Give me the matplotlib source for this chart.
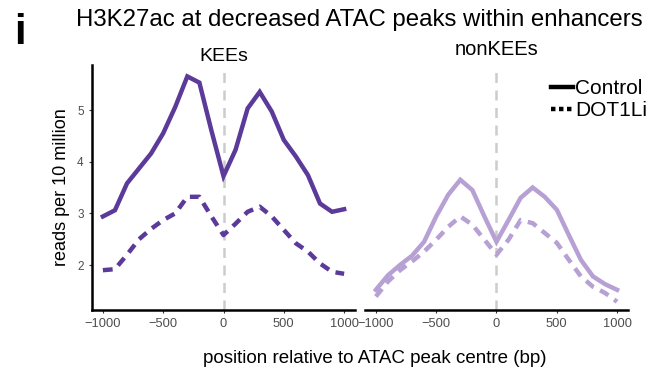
import numpy as np
import matplotlib.pyplot as plt
from matplotlib.lines import Line2D

plt.rcParams['font.family'] = ['Liberation Sans', 'DejaVu Sans']

# positions of the profile bins (bp)
pos = [-1000, -900, -800, -700, -600, -500, -400, -300, -200, -100, 0,
       100, 200, 300, 400, 500, 600, 700, 800, 900, 1000]

# KEEs
kee_ctrl = [2.94, 3.06, 3.58, 3.87, 4.16, 4.55, 5.06, 5.65, 5.53, 4.6, 3.72,
            4.23, 5.03, 5.35, 4.97, 4.42, 4.1, 3.74, 3.19, 3.03, 3.08]
kee_dot1l = [1.9, 1.92, 2.2, 2.5, 2.7, 2.87, 3.0, 3.32, 3.32, 2.94, 2.58,
             2.8, 3.03, 3.13, 2.94, 2.68, 2.42, 2.26, 2.03, 1.87, 1.83]

# nonKEEs
non_ctrl = [1.52, 1.8, 2.0, 2.18, 2.45, 2.94, 3.36, 3.65, 3.45, 2.94, 2.45,
            2.87, 3.3, 3.5, 3.32, 3.07, 2.58, 2.1, 1.78, 1.63, 1.52]
non_dot1l = [1.39, 1.68, 1.9, 2.07, 2.26, 2.49, 2.74, 2.94, 2.78, 2.49, 2.2,
             2.49, 2.87, 2.81, 2.62, 2.43, 2.1, 1.78, 1.58, 1.46, 1.29]

xticks = [-1000, -500, 0, 500, 1000]
xticklabels = ['\u22121000', '\u2212500', '0', '500', '1000']
yticks = [2, 3, 4, 5]

dark = '#5b3a9a'
light = '#b6a0d4'

fig = plt.figure(figsize=(6.64, 3.70), dpi=100)
ax1 = fig.add_axes([0.1386, 0.1622, 0.396, 0.662])
ax2 = fig.add_axes([0.5497, 0.1622, 0.396, 0.662])

for ax, ctrl, dot, col in [(ax1, kee_ctrl, kee_dot1l, dark),
                           (ax2, non_ctrl, non_dot1l, light)]:
    ax.axvline(0, color='#cccccc', lw=1.8, ls=(0, (4, 3)), zorder=1)
    ax.plot(pos, ctrl, color=col, lw=3.2, solid_joinstyle='miter', zorder=3)
    ax.plot(pos, dot, color=col, lw=3.2, ls=(0, (2.2, 1.6)), zorder=2)
    ax.set_xlim(-1090, 1090)
    ax.set_ylim(1.13, 5.87)
    ax.set_xticks(xticks)
    ax.set_xticklabels(xticklabels)
    ax.tick_params(axis='both', length=2.5, width=0.8, colors='#333333',
                   labelsize=9.3, pad=3.5, labelcolor='#4d4d4d')
    for s in ['top', 'right']:
        ax.spines[s].set_visible(False)
    ax.spines['bottom'].set_linewidth(1.8)
    ax.spines['left'].set_linewidth(1.8)

ax1.set_yticks(yticks)
ax1.tick_params(axis='y', labelsize=8.5)
ax2.set_yticks([])
ax2.spines['left'].set_visible(False)

ax1.set_ylabel('reads per 10 million', fontsize=13, labelpad=5)
ax1.set_title('KEEs', fontsize=14, pad=0)
ax2.set_title('nonKEEs', fontsize=14.5, pad=7)

fig.text(0.115, 0.93, 'H3K27ac at decreased ATAC peaks within enhancers',
         fontsize=17.3, ha='left', va='baseline')
fig.text(0.022, 0.88, 'i', fontsize=30, fontweight='bold', ha='left',
         va='baseline')
fig.text(0.565, 0.02, 'position relative to ATAC peak centre (bp)',
         fontsize=13.5, ha='center', va='baseline')

handles = [Line2D([], [], color='black', lw=3.2),
           Line2D([], [], color='black', lw=3.2, ls=(0, (1.0, 0.8)))]
fig.legend(handles, ['Control', 'DOT1Li'], loc='upper left',
           bbox_to_anchor=(551 / 664, 1 - 79 / 370), frameon=False,
           fontsize=15, handlelength=1.05, handletextpad=0.12,
           labelspacing=0.15, borderaxespad=0, borderpad=0)

fig.savefig('out.png', dpi=100)
